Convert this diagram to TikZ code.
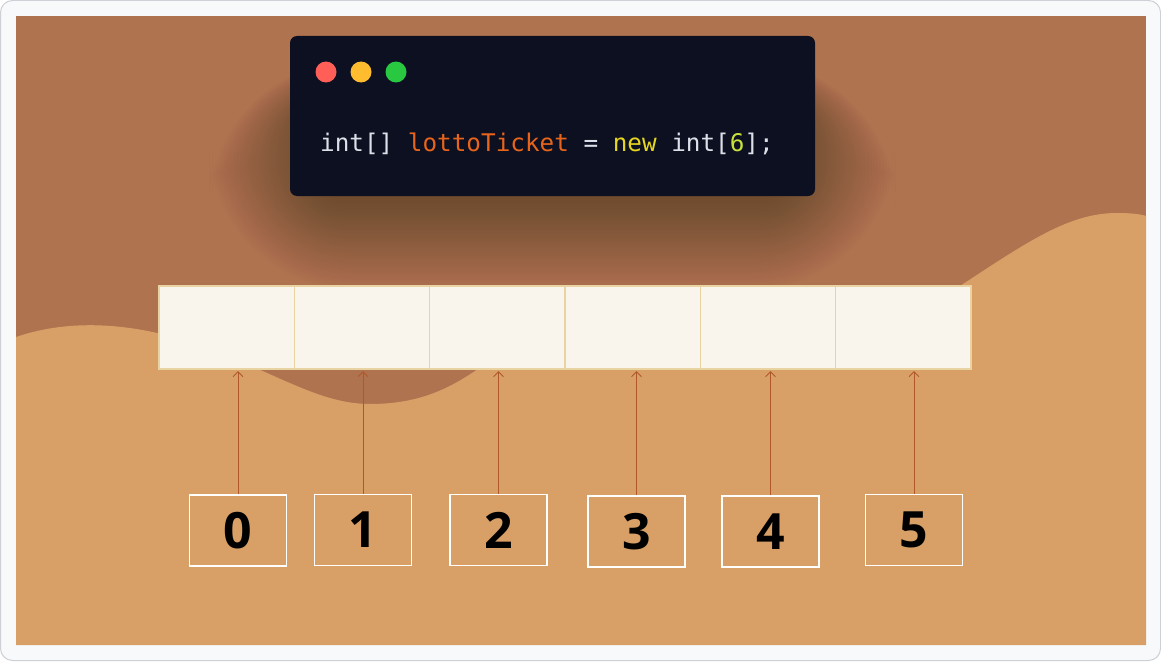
\documentclass[tikz,border=0pt]{standalone}
\usepackage{fontspec}
\newfontfamily\codefont{DejaVu Sans Mono}
\newfontfamily\digitfont{Open Sans}
\usetikzlibrary{arrows.meta}
\definecolor{framebg}{HTML}{F8F9FB}
\definecolor{frameline}{HTML}{CDD0D5}
\definecolor{topbg}{HTML}{B07350}
\definecolor{sand}{HTML}{D8A066}
\definecolor{codebg}{HTML}{0C1021}
\definecolor{cellfill}{HTML}{F9F4EC}
\definecolor{cellline}{HTML}{E9D3A3}
\definecolor{arrowc}{HTML}{B0582A}
\definecolor{shadowc}{HTML}{3A2A20}
\definecolor{dotred}{HTML}{FF5F57}
\definecolor{dotyellow}{HTML}{FEBC2E}
\definecolor{dotgreen}{HTML}{28C840}
\definecolor{codewhite}{HTML}{DCE0E8}
\definecolor{codeorange}{HTML}{E8641B}
\definecolor{codeyellow}{HTML}{E6D620}
\definecolor{codelime}{HTML}{C8E03A}
\tikzset{
  cell/.style={draw=cellline, line width=1.1pt, fill=cellfill, minimum width=135.33pt, minimum height=83pt, inner sep=0pt},
  idxbox/.style={draw=white, line width=1.3pt, minimum width=97pt, minimum height=71pt, inner sep=0pt, font=\digitfont\bfseries\fontsize{50}{50}\selectfont},
  pointer/.style={draw=arrowc, line width=0.9pt, -{Straight Barb[length=5pt,width=10pt]}},
  dot/.style={circle, minimum size=21pt, inner sep=0pt}
}
\begin{document}
\begin{tikzpicture}[x=1pt,y=-1pt]
\useasboundingbox (0,0) rectangle (1161,661);
% frame
\draw[fill=framebg, draw=frameline, line width=1pt, rounded corners=12pt] (0.5,0.5) rectangle (1160.5,660.5);
% background
\fill[topbg] (16,16) rectangle (1146,645);
\begin{scope}
\clip (16,16) rectangle (1146,645);
\fill[sand] (16,337) .. controls (60,322) and (120,318) .. (200,345)
  .. controls (280,375) and (320,404) .. (370,404)
  .. controls (420,404) and (450,388) .. (478,369)
  .. controls (560,320) and (880,330) .. (960,286)
  .. controls (1030,240) and (1070,213) .. (1117,213)
  .. controls (1130,213) and (1140,214) .. (1146,216)
  -- (1146,645) -- (16,645) -- cycle;
% shadow of the code window
\foreach \i in {0,...,39}{
  \fill[shadowc, opacity=0.016, rounded corners=10pt+3.5pt*\i]
    (330-3.1*\i, 100-1.0*\i) rectangle (775+3.1*\i, 185+2.7*\i);
}
\end{scope}
% code window
\node[fill=codebg, rounded corners=7pt, minimum width=525pt, minimum height=160pt, inner sep=0pt] (code) at (552.5,116) {};
\node[dot, fill=dotred] (dr) at (326,72) {};
\node[dot, fill=dotyellow] (dy) at (361,72) {};
\node[dot, fill=dotgreen] (dg) at (396,72) {};
\node[anchor=base west, inner sep=0pt, font=\codefont\fontsize{24.3}{28}\selectfont] (codetext) at (320,151)
  {\textcolor{codewhite}{int[]} \textcolor{codeorange}{lottoTicket} \textcolor{codewhite}{=} \textcolor{codeyellow}{new} \textcolor{codewhite}{int[}\textcolor{codelime}{6}\textcolor{codewhite}{];}};
% array cells
\foreach \k in {0,...,5}{
  \node[cell] (c\k) at (159+135.33*\k+67.67, 327.5) {};
}
% index boxes
\node[idxbox] (i0) at (238,530.5) {0};
\node[idxbox] (i1) at (363,530) {1};
\node[idxbox] (i2) at (498.5,530) {2};
\node[idxbox] (i3) at (636.5,531.5) {3};
\node[idxbox] (i4) at (770.5,531.5) {4};
\node[idxbox] (i5) at (914,530) {5};
% pointers
\foreach \k in {0,...,5}{
  \draw[pointer] (i\k.north) -- ([yshift=-1.5pt]i\k.north |- c\k.south);
}
\end{tikzpicture}
\end{document}
